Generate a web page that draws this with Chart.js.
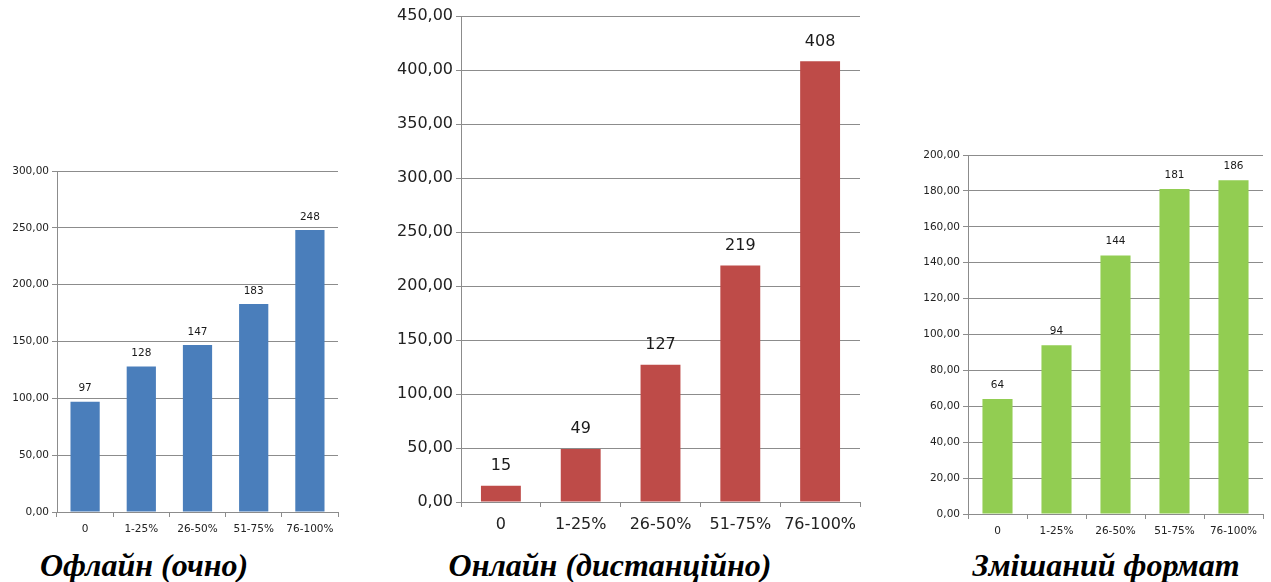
<!DOCTYPE html>
<html>
<head>
<meta charset="utf-8">
<script src="https://cdn.jsdelivr.net/npm/chart.js@4/dist/chart.umd.min.js"></script>
<style>
  body { margin: 0; background: #fff; width: 1271px; height: 582px; position: relative; overflow: hidden; }
  canvas { position: absolute; }
  .ttl { position: absolute; font-family: "Liberation Serif", serif; font-weight: bold; font-style: italic;
         font-size: 32px; color: #000; text-align: center; width: 400px; white-space: nowrap; }
</style>
</head>
<body>
<canvas id="c1" width="345" height="380" style="left:0;top:160px"></canvas>
<canvas id="c2" width="490" height="545" style="left:380px;top:0"></canvas>
<canvas id="c3" width="371" height="400" style="left:900px;top:140px"></canvas>
<div class="ttl" style="left:-56px;top:547px">Офлайн (очно)</div>
<div class="ttl" style="left:410px;top:547px">Онлайн (дистанційно)</div>
<div class="ttl" style="left:906px;top:547px">Змішаний формат</div>
<script>
const categories = ['0', '1-25%', '26-50%', '51-75%', '76-100%'];
const offlineValues = [97, 128, 147, 183, 248];
const onlineValues = [15, 49, 127, 219, 408];
const mixedValues = [64, 94, 144, 181, 186];

const gridGray = '#8c8c8c';

const valueLabels = {
    id: 'valueLabels',
    afterDatasetsDraw(chart, args, opts) {
        const ctx = chart.ctx;
        const meta = chart.getDatasetMeta(0);
        ctx.save();
        ctx.font = opts.size + 'px "DejaVu Sans"';
        ctx.fillStyle = '#1a1a1a';
        ctx.textAlign = 'center';
        ctx.textBaseline = 'middle';
        meta.data.forEach((bar, i) => {
            ctx.fillText(chart.data.datasets[0].data[i], bar.x, bar.y - opts.offset);
        });
        ctx.restore();
    }
};

function makeChart(id, values, color, o) {
    return new Chart(document.getElementById(id), {
        type: 'bar',
        data: {
            labels: categories,
            datasets: [{ data: values, backgroundColor: color, categoryPercentage: o.cat, barPercentage: 1 }]
        },
        plugins: [valueLabels],
        options: {
            responsive: false,
            animation: false,
            layout: { padding: { top: o.top, right: o.right, left: 0, bottom: 0 } },
            plugins: {
                legend: { display: false },
                tooltip: { enabled: false },
                valueLabels: { size: o.font, offset: o.labelOffset }
            },
            scales: {
                x: {
                    grid: { offset: true, drawOnChartArea: false, tickLength: 5, color: gridGray },
                    border: { color: gridGray },
                    ticks: { color: '#222', font: { family: 'DejaVu Sans', size: o.font }, padding: o.xPad, maxRotation: 0 },
                    afterFit: s => { s.height = o.xH; }
                },
                y: {
                    min: 0, max: o.max,
                    grid: { color: gridGray, tickLength: 5 },
                    border: { color: gridGray },
                    ticks: {
                        stepSize: o.step, color: '#222', padding: 3,
                        font: { family: 'DejaVu Sans', size: o.font },
                        callback: v => v.toFixed(2).replace('.', ',')
                    },
                    afterFit: s => { s.width = o.yW; }
                }
            }
        }
    });
}

makeChart('c1', offlineValues, '#4a7ebb', { max: 300, step: 50, font: 10.5, top: 11, right: 7, xH: 28, yW: 57, cat: 0.52, labelOffset: 13, xPad: 6 });
makeChart('c2', onlineValues, '#be4b48', { max: 450, step: 50, font: 16, top: 16, right: 10, xH: 43, yW: 81, cat: 0.5, labelOffset: 20, xPad: 8 });
makeChart('c3', mixedValues, '#92cd52', { max: 200, step: 20, font: 10.5, top: 15, right: 8, xH: 26, yW: 68, cat: 0.51, labelOffset: 14, xPad: 6 });
</script>
</body>
</html>
